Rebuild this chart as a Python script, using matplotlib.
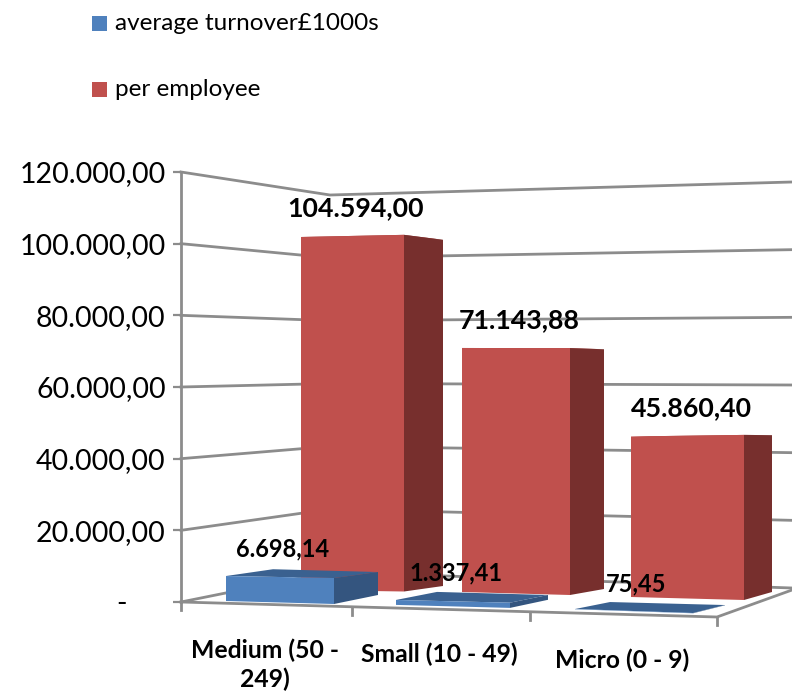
import matplotlib
matplotlib.use("Agg")
import matplotlib.pyplot as plt
from matplotlib.patches import Polygon, Rectangle

plt.rcParams['font.family'] = ['Lato', 'DejaVu Sans']

categories = ["Medium (50 -\n249)", "Small (10 - 49)", "Micro (0 - 9)"]
turnover = [6698.14, 1337.41, 75.45]
per_employee = [104594.00, 71143.88, 45860.40]
y_ticks = [0, 20000, 40000, 60000, 80000, 100000, 120000]

W, H = 792, 691
GREY = "#8c8c8c"

# bar footprints on the floor, corners are front-left, front-right, back-right, back-left
# each corner is (x, base y, pixels per 1000 units)
red_feet = [
    [(301, 590, 3.375), (404, 591.5, 3.41), (443, 586, 3.31), (340, 585, 3.31)],
    [(462, 592, 3.43), (570, 595, 3.47), (604, 589, 3.37), (496, 587, 3.33)],
    [(631, 597, 3.50), (744, 600, 3.60), (772, 592, 3.42), (659, 590, 3.33)],
]
blue_feet = [
    [(226, 601, 3.73), (334, 604, 3.88), (378, 595, 3.43), (273, 592, 3.4)],
    [(396, 604.9, 3.7), (510, 607.9, 3.9), (548, 599.8, 3.6), (437, 596.6, 3.5)],
    [(575, 609.3, 3.7), (693, 613.3, 3.9), (725, 605.3, 3.6), (610, 602.3, 3.5)],
]
red_colors = ("#c0504d", "#772f2d", "#a84542")
blue_colors = ("#4f81bd", "#34557f", "#3a6190")

red_label_pos = [(356, 208), (519, 320), (691, 408)]
blue_label_pos = [(283, 549), (456, 573), (636, 584)]
cat_label_pos = [(265, 665), (439, 654), (622, 660)]


def euro_fmt(v):
    return f"{v:,.2f}".replace(",", "#").replace(".", ",").replace("#", ".")


def draw_bar(ax, value, feet, colors):
    front, side, top = colors
    base = [(x, y) for x, y, s in feet]
    up = [(x, y - value / 1000 * s) for x, y, s in feet]
    ax.add_patch(Polygon(up, fc=top, ec="none", zorder=3))
    ax.add_patch(Polygon([up[1], up[2], base[2], base[1]], fc=side, ec="none", zorder=3))
    ax.add_patch(Polygon([up[0], up[1], base[1], base[0]], fc=front, ec="none", zorder=3))


fig = plt.figure(figsize=(W / 100, H / 100), dpi=100)

# scene axes works in pixels, y pointing down
scene = fig.add_axes([0, 0, 1, 1])
scene.set_xlim(0, W)
scene.set_ylim(H, 0)
scene.axis("off")

# value axis sits on the front left edge of the box
y0, y1 = 602, 172
ax = fig.add_axes([181 / W, (H - y0) / H, (W - 181) / W, (y0 - y1) / H])
ax.patch.set_alpha(0)
ax.set_ylim(0, 120000)
ax.set_xticks([])
ax.set_yticks(y_ticks)
ax.set_yticklabels(["-" if t == 0 else euro_fmt(t) for t in y_ticks], fontsize=20.5, color="black")
ax.get_yticklabels()[0].set_x(-0.063)
ax.tick_params(axis="y", length=6, width=1.6, color=GREY, pad=5)
for name in ("top", "right", "bottom"):
    ax.spines[name].set_visible(False)
ax.spines["left"].set_color(GREY)
ax.spines["left"].set_linewidth(2)

# walls: grid lines run along the side wall and then the back wall
for t in y_ticks:
    f = t / 120000
    left_y = y0 + (y1 - y0) * f
    corner_y = 572 + (195 - 572) * f
    right_y = 588 + (182 - 588) * f
    scene.plot([181, 330, 792], [left_y, corner_y, right_y], color=GREY, lw=2, zorder=1)

# floor outline and category ticks
scene.plot([181, 717, 792], [602, 617, 590], color=GREY, lw=2, zorder=2)
for tx, ty in [(181, 602), (352, 606.5), (530, 612), (717, 617)]:
    scene.plot([tx, tx], [ty, ty + 8], color=GREY, lw=2, zorder=2)

for v, feet in zip(per_employee, red_feet):
    draw_bar(scene, v, feet, red_colors)
for v, feet in zip(turnover, blue_feet):
    draw_bar(scene, v, feet, blue_colors)

for v, (x, y) in zip(per_employee, red_label_pos):
    scene.text(x, y, euro_fmt(v), ha="center", va="center", fontsize=19.3, fontweight="bold", zorder=5)
for v, (x, y) in zip(turnover, blue_label_pos):
    scene.text(x, y, euro_fmt(v), ha="center", va="center", fontsize=17, fontweight="bold", zorder=5)
for name, (x, y) in zip(categories, cat_label_pos):
    scene.text(x, y, name, ha="center", va="center", fontsize=17.8, fontweight="bold",
               linespacing=1.3, zorder=5)

# legend, spaced out in two rows
for label, col, ly in [("average turnover£1000s", "#4f81bd", 23), ("per employee", "#c0504d", 89)]:
    scene.add_patch(Rectangle((92, ly - 7.5), 15, 15, fc=col, ec="none"))
    scene.text(115, ly, label, ha="left", va="center", fontsize=17.5)

fig.savefig("out.png", dpi=100)
